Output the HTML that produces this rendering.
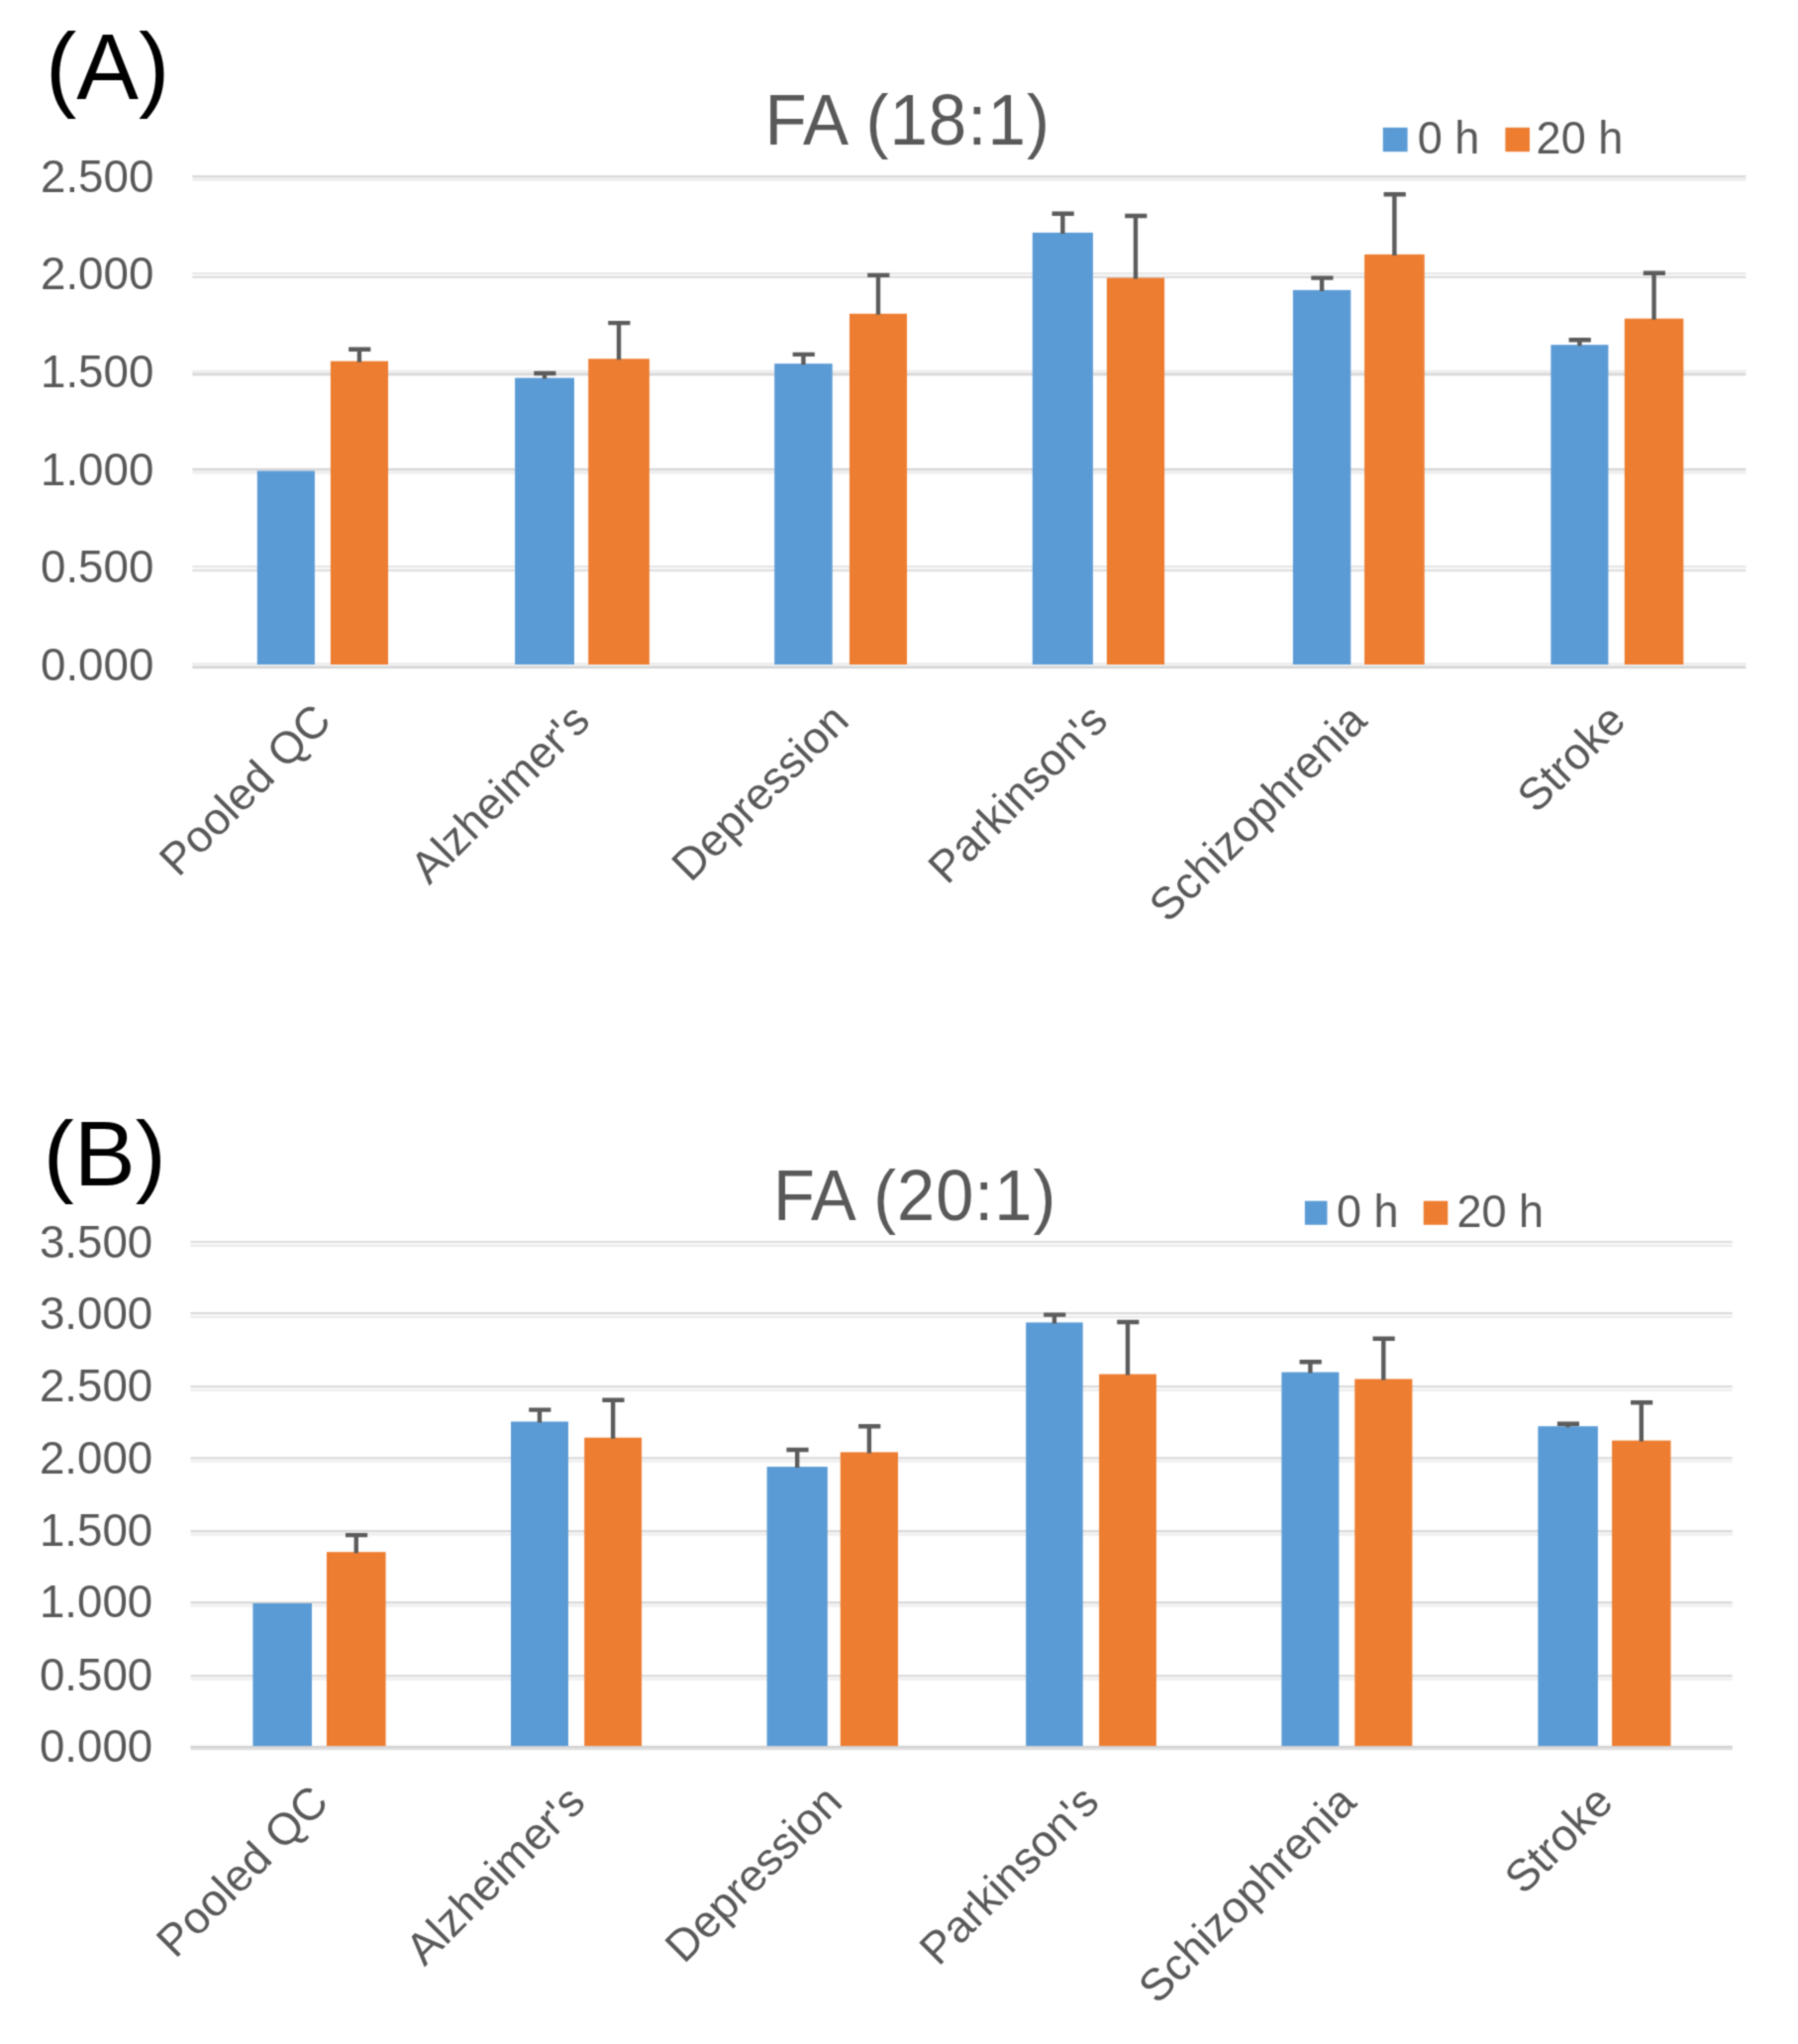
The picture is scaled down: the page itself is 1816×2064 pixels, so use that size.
<!DOCTYPE html>
<html lang="en">
<head>
<meta charset="utf-8">
<title>FA (18:1) and FA (20:1) stability</title>
<style>
html,body{margin:0;padding:0;background:#fff;}
body{width:1816px;height:2064px;overflow:hidden;}
svg{display:block;font-family:"Liberation Sans", Arial, Helvetica, sans-serif;}
#fig{width:1816px;height:2064px;}
</style>
</head>
<body>
<div id="fig">
<svg width="1816" height="2064" viewBox="0 0 1816 2064">
<defs>
<filter id="soft" x="0" y="0" width="1816" height="2064" filterUnits="userSpaceOnUse" color-interpolation-filters="sRGB">
<feConvolveMatrix order="3" kernelMatrix="0.04 0.12 0.04 0.12 0.36 0.12 0.04 0.12 0.04" divisor="1" edgeMode="duplicate" preserveAlpha="true"/>
</filter>
</defs>
<g filter="url(#soft)">
<rect width="1816" height="2064" fill="#ffffff"/>
<g id="chartA">
<g class="grid">
<rect x="194.3" y="177.1" width="1569.1" height="1.9" fill="#d7d7d7"/>
<rect x="194.3" y="179" width="1569.1" height="3.8" fill="#eeeeee"/>
<rect x="194.3" y="275.1" width="1569.1" height="1.9" fill="#e7e7e7"/>
<rect x="194.3" y="277" width="1569.1" height="1.9" fill="#f7f7f7"/>
<rect x="194.3" y="278.9" width="1569.1" height="2.1" fill="#dedede"/>
<rect x="194.3" y="373.7" width="1569.1" height="3.1" fill="#ededed"/>
<rect x="194.3" y="376.8" width="1569.1" height="2.6" fill="#d8d8d8"/>
<rect x="194.3" y="472.8" width="1569.1" height="2.5" fill="#d6d6d6"/>
<rect x="194.3" y="475.3" width="1569.1" height="3.5" fill="#efefef"/>
<rect x="194.3" y="571" width="1569.1" height="2" fill="#e7e7e7"/>
<rect x="194.3" y="573" width="1569.1" height="2.1" fill="#f7f7f7"/>
<rect x="194.3" y="575.1" width="1569.1" height="2.1" fill="#dedede"/>
<rect x="194.3" y="669" width="1569.1" height="3.6" fill="#eeeeee"/>
<rect x="194.3" y="672.6" width="1569.1" height="2.5" fill="#d4d4d4"/>
</g>
<g class="bars">
<rect x="259.8" y="475.5" width="58.1" height="195.5" fill="#5b9bd5"/>
<rect x="333.9" y="364.7" width="58.1" height="306.3" fill="#ed7d31"/>
<rect x="520.1" y="381.6" width="59.9" height="289.4" fill="#5b9bd5"/>
<rect x="594.2" y="362.3" width="61.7" height="308.7" fill="#ed7d31"/>
<rect x="782.2" y="367.2" width="58.5" height="303.8" fill="#5b9bd5"/>
<rect x="858" y="316.8" width="58" height="354.2" fill="#ed7d31"/>
<rect x="1042.8" y="234.9" width="61.1" height="436.1" fill="#5b9bd5"/>
<rect x="1117.9" y="280.6" width="58.2" height="390.4" fill="#ed7d31"/>
<rect x="1305.9" y="292.9" width="58.4" height="378.1" fill="#5b9bd5"/>
<rect x="1378.1" y="256.9" width="60.6" height="414.1" fill="#ed7d31"/>
<rect x="1566.4" y="348.2" width="58" height="322.8" fill="#5b9bd5"/>
<rect x="1640.8" y="321.7" width="59.5" height="349.3" fill="#ed7d31"/>
</g>
<g class="err" stroke="#5c5c5c" stroke-width="4.4" fill="none">
<path d="M362.95 365.7 V352.7 M352.15 352.7 H374.35"/>
<path d="M550.05 382.6 V377 M539.25 377 H561.45"/>
<path d="M625.05 363.3 V326.1 M614.25 326.1 H636.45"/>
<path d="M811.45 368.2 V357.9 M800.65 357.9 H822.85"/>
<path d="M887 317.8 V277.9 M876.2 277.9 H898.4"/>
<path d="M1073.35 235.9 V215.8 M1062.55 215.8 H1084.75"/>
<path d="M1147 281.6 V218 M1136.2 218 H1158.4"/>
<path d="M1335.1 293.9 V280.6 M1324.3 280.6 H1346.5"/>
<path d="M1408.4 257.9 V196.2 M1397.6 196.2 H1419.8"/>
<path d="M1595.4 349.2 V343.3 M1584.6 343.3 H1606.8"/>
<path d="M1670.55 322.7 V275.7 M1659.75 275.7 H1681.95"/>
</g>
<g class="ylabels">
<text transform="translate(155.3 193.7) scale(0.972 1)" font-size="47" fill="#595959" text-anchor="end">2.500</text>
<text transform="translate(155.3 291.8) scale(0.972 1)" font-size="47" fill="#595959" text-anchor="end">2.000</text>
<text transform="translate(155.3 390.7) scale(0.972 1)" font-size="47" fill="#595959" text-anchor="end">1.500</text>
<text transform="translate(155.3 489.5) scale(0.972 1)" font-size="47" fill="#595959" text-anchor="end">1.000</text>
<text transform="translate(155.3 588.2) scale(0.972 1)" font-size="47" fill="#595959" text-anchor="end">0.500</text>
<text transform="translate(155.3 686.8) scale(0.972 1)" font-size="47" fill="#595959" text-anchor="end">0.000</text>
</g>
<g class="xlabels">
<text transform="translate(336.56 730) rotate(-45)" font-size="45.3" fill="#595959" text-anchor="end">Pooled QC</text>
<text transform="translate(598.08 730) rotate(-45)" font-size="45.3" fill="#595959" text-anchor="end">Alzheimer's</text>
<text transform="translate(859.59 730) rotate(-45)" font-size="45.3" fill="#595959" text-anchor="end">Depression</text>
<text transform="translate(1121.11 730) rotate(-45)" font-size="45.3" fill="#595959" text-anchor="end">Parkinson's</text>
<text transform="translate(1382.63 730) rotate(-45)" font-size="45.3" fill="#595959" text-anchor="end">Schizophrenia</text>
<text transform="translate(1644.14 730) rotate(-45)" font-size="45.3" fill="#595959" text-anchor="end">Stroke</text>
</g>
<text transform="translate(772.5 146) scale(0.96 1)" font-size="72" fill="#595959">FA <tspan dx="2.1" letter-spacing="1.05">(18:1)</tspan></text>
<text transform="translate(46 100.3)" font-size="94" fill="#000">(A)</text>
<g class="legend">
<rect x="1396.8" y="128.8" width="24.8" height="24.4" fill="#5b9bd5"/>
<rect x="1520.4" y="128.8" width="24.6" height="24.4" fill="#ed7d31"/>
<text transform="translate(1431.8 154.6) scale(0.99 1)" font-size="45.5" fill="#595959">0 h</text>
<text transform="translate(1551.6 154.6) scale(0.99 1)" font-size="45.5" fill="#595959">20 h</text>
</g>
</g>
<g id="chartB">
<g class="grid">
<rect x="192.5" y="1253" width="1557.2" height="2" fill="#dedede"/>
<rect x="192.5" y="1255" width="1557.2" height="2.2" fill="#f7f7f7"/>
<rect x="192.5" y="1257.2" width="1557.2" height="1.9" fill="#e9e9e9"/>
<rect x="192.5" y="1325" width="1557.2" height="2.1" fill="#dadada"/>
<rect x="192.5" y="1327.1" width="1557.2" height="2" fill="#f7f7f7"/>
<rect x="192.5" y="1329.1" width="1557.2" height="1.9" fill="#ebebeb"/>
<rect x="192.5" y="1399" width="1557.2" height="2" fill="#dadada"/>
<rect x="192.5" y="1401" width="1557.2" height="2.1" fill="#f7f7f7"/>
<rect x="192.5" y="1403.1" width="1557.2" height="1.9" fill="#ededed"/>
<rect x="192.5" y="1471.3" width="1557.2" height="1.8" fill="#d8d8d8"/>
<rect x="192.5" y="1473.1" width="1557.2" height="3.8" fill="#f1f1f1"/>
<rect x="192.5" y="1545" width="1557.2" height="2.2" fill="#dadada"/>
<rect x="192.5" y="1547.2" width="1557.2" height="3.8" fill="#f1f1f1"/>
<rect x="192.5" y="1617.2" width="1557.2" height="1.9" fill="#d6d6d6"/>
<rect x="192.5" y="1619.1" width="1557.2" height="3.8" fill="#f1f1f1"/>
<rect x="192.5" y="1691.3" width="1557.2" height="1.9" fill="#d8d8d8"/>
<rect x="192.5" y="1693.2" width="1557.2" height="3.7" fill="#f1f1f1"/>
<rect x="192.5" y="1762.8" width="1557.2" height="2.6" fill="#d2d2d2"/>
<rect x="192.5" y="1765.4" width="1557.2" height="1.8" fill="#dcdcdc"/>
</g>
<g class="bars">
<rect x="255.4" y="1619" width="59.6" height="144" fill="#5b9bd5"/>
<rect x="329.9" y="1567.2" width="59.7" height="195.8" fill="#ed7d31"/>
<rect x="516" y="1435.5" width="58" height="327.5" fill="#5b9bd5"/>
<rect x="590.2" y="1451.7" width="57.9" height="311.3" fill="#ed7d31"/>
<rect x="774.6" y="1481.1" width="61.2" height="281.9" fill="#5b9bd5"/>
<rect x="848.8" y="1466.4" width="58.2" height="296.6" fill="#ed7d31"/>
<rect x="1036.2" y="1335.4" width="57.5" height="427.6" fill="#5b9bd5"/>
<rect x="1110.1" y="1387.6" width="57.8" height="375.4" fill="#ed7d31"/>
<rect x="1294.4" y="1385.6" width="58" height="377.4" fill="#5b9bd5"/>
<rect x="1368.3" y="1392.5" width="58.1" height="370.5" fill="#ed7d31"/>
<rect x="1553.4" y="1440.2" width="60.5" height="322.8" fill="#5b9bd5"/>
<rect x="1628.1" y="1454.6" width="59.4" height="308.4" fill="#ed7d31"/>
</g>
<g class="err" stroke="#5c5c5c" stroke-width="4.4" fill="none">
<path d="M359.75 1568.2 V1550.1 M348.95 1550.1 H371.15"/>
<path d="M545 1436.5 V1423.6 M534.2 1423.6 H556.4"/>
<path d="M619.15 1452.7 V1413.8 M608.35 1413.8 H630.55"/>
<path d="M805.2 1482.1 V1464 M794.4 1464 H816.6"/>
<path d="M877.9 1467.4 V1440.2 M867.1 1440.2 H889.3"/>
<path d="M1064.95 1336.4 V1327.6 M1054.15 1327.6 H1076.35"/>
<path d="M1139 1388.6 V1335 M1128.2 1335 H1150.4"/>
<path d="M1323.4 1386.6 V1375.3 M1312.6 1375.3 H1334.8"/>
<path d="M1397.35 1393.5 V1351.8 M1386.55 1351.8 H1408.75"/>
<path d="M1583.65 1441.2 V1437.7 M1572.85 1437.7 H1595.05"/>
<path d="M1657.8 1455.6 V1416.2 M1647 1416.2 H1669.2"/>
</g>
<g class="ylabels">
<text transform="translate(154.2 1269.9) scale(0.972 1)" font-size="47" fill="#595959" text-anchor="end">3.500</text>
<text transform="translate(154.2 1341.7) scale(0.972 1)" font-size="47" fill="#595959" text-anchor="end">3.000</text>
<text transform="translate(154.2 1415.4) scale(0.972 1)" font-size="47" fill="#595959" text-anchor="end">2.500</text>
<text transform="translate(154.2 1487.5) scale(0.972 1)" font-size="47" fill="#595959" text-anchor="end">2.000</text>
<text transform="translate(154.2 1561.3) scale(0.972 1)" font-size="47" fill="#595959" text-anchor="end">1.500</text>
<text transform="translate(154.2 1633.1) scale(0.972 1)" font-size="47" fill="#595959" text-anchor="end">1.000</text>
<text transform="translate(154.2 1707) scale(0.972 1)" font-size="47" fill="#595959" text-anchor="end">0.500</text>
<text transform="translate(154.2 1778.7) scale(0.972 1)" font-size="47" fill="#595959" text-anchor="end">0.000</text>
</g>
<g class="xlabels">
<text transform="translate(333.77 1822) rotate(-45)" font-size="45.3" fill="#595959" text-anchor="end">Pooled QC</text>
<text transform="translate(593.3 1822) rotate(-45)" font-size="45.3" fill="#595959" text-anchor="end">Alzheimer's</text>
<text transform="translate(852.83 1822) rotate(-45)" font-size="45.3" fill="#595959" text-anchor="end">Depression</text>
<text transform="translate(1112.37 1822) rotate(-45)" font-size="45.3" fill="#595959" text-anchor="end">Parkinson's</text>
<text transform="translate(1371.9 1822) rotate(-45)" font-size="45.3" fill="#595959" text-anchor="end">Schizophrenia</text>
<text transform="translate(1631.43 1822) rotate(-45)" font-size="45.3" fill="#595959" text-anchor="end">Stroke</text>
</g>
<text transform="translate(781 1232.1) scale(0.953 1)" font-size="72" fill="#595959">FA <tspan dx="2.1" letter-spacing="1.05">(20:1)</tspan></text>
<text transform="translate(43.7 1197)" font-size="93" fill="#000">(B)</text>
<g class="legend">
<rect x="1317.9" y="1212.7" width="22.6" height="24.1" fill="#5b9bd5"/>
<rect x="1437.8" y="1212.7" width="24.5" height="24.1" fill="#ed7d31"/>
<text transform="translate(1350 1238.6) scale(0.99 1)" font-size="45.5" fill="#595959">0 h</text>
<text transform="translate(1471.5 1238.6) scale(0.99 1)" font-size="45.5" fill="#595959">20 h</text>
</g>
</g>
</g>
</svg>
</div>
</body>
</html>
